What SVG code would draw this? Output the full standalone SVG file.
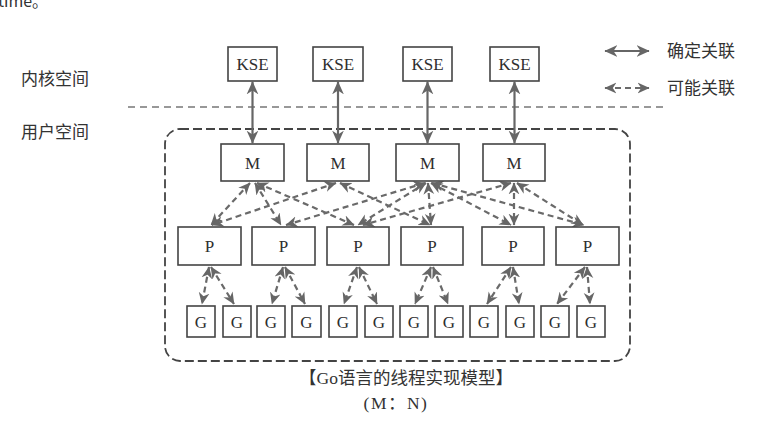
<svg xmlns="http://www.w3.org/2000/svg" width="761" height="432" viewBox="0 0 761 432">
<style>
.box{fill:#fff;stroke:#444;stroke-width:1.6}
.lbl{font-family:"Liberation Serif",serif;font-size:17px;fill:#2e2e2e;text-anchor:middle}
.cn{font-family:"Noto Sans CJK SC",sans-serif;font-size:17px;fill:#333}
.solid{stroke:#666;stroke-width:2.2;fill:none;marker-start:url(#ah);marker-end:url(#ah)}
.dash{stroke:#6a6a6a;stroke-width:2.2;fill:none;stroke-dasharray:6 4;marker-start:url(#ah2);marker-end:url(#ah2)}
</style>
<defs>
<marker id="ah" viewBox="0 0 10 10" refX="9.5" refY="5" markerWidth="13" markerHeight="13" markerUnits="userSpaceOnUse" orient="auto-start-reverse">
<path d="M0,0.5 L10,5 L0,9.5 L3,5 z" fill="#666"/>
</marker>
<marker id="ah2" viewBox="0 0 10 10" refX="9.5" refY="5" markerWidth="12" markerHeight="12" markerUnits="userSpaceOnUse" orient="auto-start-reverse">
<path d="M0,0.5 L10,5 L0,9.5 L3,5 z" fill="#666"/>
</marker>
</defs>
<rect width="761" height="432" fill="#fff"/>
<text x="-2" y="7" font-family="Noto Sans CJK SC,sans-serif" font-size="16" fill="#333">time。</text>

<g id="labels">
<text class="cn" x="21" y="85">内核空间</text>
<text class="cn" x="21" y="138">用户空间</text>
<text class="cn" x="667" y="57">确定关联</text>
<text class="cn" x="667" y="94">可能关联</text>
</g>

<g id="boundary">
<line x1="128" y1="107" x2="668" y2="107" stroke="#777" stroke-width="1.4" stroke-dasharray="7 5"/>
<rect x="165" y="129" width="465" height="232" rx="15" fill="none" stroke="#444" stroke-width="1.8" stroke-dasharray="9 4"/>
</g>

<g id="connectors">
<line class="solid" x1="605" y1="51" x2="649" y2="51"/>
<line class="dash" x1="605" y1="88" x2="649" y2="88"/>
<line class="solid" x1="252.5" y1="82" x2="252.5" y2="143"/>
<line class="solid" x1="338" y1="82" x2="338" y2="143"/>
<line class="solid" x1="427.5" y1="82" x2="427.5" y2="143"/>
<line class="solid" x1="514.5" y1="82" x2="514.5" y2="143"/>
<line class="dash" x1="250" y1="183" x2="211" y2="225"/>
<line class="dash" x1="255" y1="183" x2="281" y2="225"/>
<line class="dash" x1="257" y1="183" x2="354" y2="225"/>
<line class="dash" x1="336" y1="183" x2="212" y2="225"/>
<line class="dash" x1="340" y1="183" x2="430" y2="225"/>
<line class="dash" x1="425" y1="183" x2="286" y2="225"/>
<line class="dash" x1="426" y1="183" x2="358" y2="225"/>
<line class="dash" x1="428" y1="183" x2="431" y2="225"/>
<line class="dash" x1="431" y1="183" x2="511" y2="225"/>
<line class="dash" x1="432" y1="183" x2="584" y2="225"/>
<line class="dash" x1="511" y1="183" x2="363" y2="225"/>
<line class="dash" x1="514" y1="183" x2="514" y2="225"/>
<line class="dash" x1="517" y1="183" x2="583" y2="225"/>
<line class="dash" x1="209" y1="267" x2="202" y2="304"/>
<line class="dash" x1="211" y1="267" x2="234" y2="304"/>
<line class="dash" x1="283" y1="267" x2="272" y2="304"/>
<line class="dash" x1="285" y1="267" x2="305" y2="304"/>
<line class="dash" x1="357" y1="267" x2="344" y2="304"/>
<line class="dash" x1="359" y1="267" x2="377" y2="304"/>
<line class="dash" x1="431" y1="267" x2="415" y2="304"/>
<line class="dash" x1="433" y1="267" x2="448" y2="304"/>
<line class="dash" x1="511" y1="267" x2="487" y2="304"/>
<line class="dash" x1="513" y1="267" x2="519" y2="304"/>
<line class="dash" x1="585" y1="267" x2="557" y2="304"/>
<line class="dash" x1="587" y1="267" x2="590" y2="304"/>
</g>

<g id="kse1"><rect class="box" x="228" y="47" width="49" height="34"/><text class="lbl" x="252.5" y="70">KSE</text></g>
<g id="kse2"><rect class="box" x="313" y="47" width="50" height="34"/><text class="lbl" x="338" y="70">KSE</text></g>
<g id="kse3"><rect class="box" x="403" y="47" width="49" height="34"/><text class="lbl" x="427.5" y="70">KSE</text></g>
<g id="kse4"><rect class="box" x="490" y="47" width="49" height="34"/><text class="lbl" x="514.5" y="70">KSE</text></g>

<g id="m1"><rect class="box" x="221" y="144" width="63" height="37"/><text class="lbl" x="252.5" y="168.5">M</text></g>
<g id="m2"><rect class="box" x="307" y="144" width="62" height="37"/><text class="lbl" x="338" y="168.5">M</text></g>
<g id="m3"><rect class="box" x="396" y="144" width="63" height="37"/><text class="lbl" x="427.5" y="168.5">M</text></g>
<g id="m4"><rect class="box" x="483" y="144" width="62" height="37"/><text class="lbl" x="514" y="168.5">M</text></g>

<g id="p1"><rect class="box" x="178" y="227" width="63" height="38"/><text class="lbl" x="209.5" y="252">P</text></g>
<g id="p2"><rect class="box" x="252" y="227" width="63" height="38"/><text class="lbl" x="283.5" y="252">P</text></g>
<g id="p3"><rect class="box" x="327" y="227" width="62" height="38"/><text class="lbl" x="358" y="252">P</text></g>
<g id="p4"><rect class="box" x="401" y="227" width="62" height="38"/><text class="lbl" x="432" y="252">P</text></g>
<g id="p5"><rect class="box" x="482" y="227" width="62" height="38"/><text class="lbl" x="513" y="252">P</text></g>
<g id="p6"><rect class="box" x="556" y="227" width="63" height="38"/><text class="lbl" x="587.5" y="252">P</text></g>

<g id="g1"><rect class="box" x="187" y="306" width="28" height="31"/><text class="lbl" x="201" y="327.5">G</text></g>
<g id="g2"><rect class="box" x="223" y="306" width="28" height="31"/><text class="lbl" x="237" y="327.5">G</text></g>
<g id="g3"><rect class="box" x="257" y="306" width="28" height="31"/><text class="lbl" x="271" y="327.5">G</text></g>
<g id="g4"><rect class="box" x="292" y="306" width="29" height="31"/><text class="lbl" x="306.5" y="327.5">G</text></g>
<g id="g5"><rect class="box" x="329" y="306" width="28" height="31"/><text class="lbl" x="343" y="327.5">G</text></g>
<g id="g6"><rect class="box" x="365" y="306" width="28" height="31"/><text class="lbl" x="379" y="327.5">G</text></g>
<g id="g7"><rect class="box" x="400" y="306" width="28" height="31"/><text class="lbl" x="414" y="327.5">G</text></g>
<g id="g8"><rect class="box" x="435" y="306" width="28" height="31"/><text class="lbl" x="449" y="327.5">G</text></g>
<g id="g9"><rect class="box" x="470" y="306" width="28" height="31"/><text class="lbl" x="484" y="327.5">G</text></g>
<g id="g10"><rect class="box" x="506" y="306" width="28" height="31"/><text class="lbl" x="520" y="327.5">G</text></g>
<g id="g11"><rect class="box" x="541" y="306" width="28" height="31"/><text class="lbl" x="555" y="327.5">G</text></g>
<g id="g12"><rect class="box" x="577" y="306" width="28" height="31"/><text class="lbl" x="591" y="327.5">G</text></g>

<g id="caption">
<text x="406" y="384" font-family="Liberation Serif,Noto Sans CJK SC,serif" font-size="17.5" fill="#333" text-anchor="middle">【Go语言的线程实现模型】</text>
<text x="396" y="409" font-family="Liberation Serif,Noto Sans CJK SC,serif" font-size="17.5" letter-spacing="1.5" fill="#333" text-anchor="middle">(M：N)</text>
</g>
</svg>
